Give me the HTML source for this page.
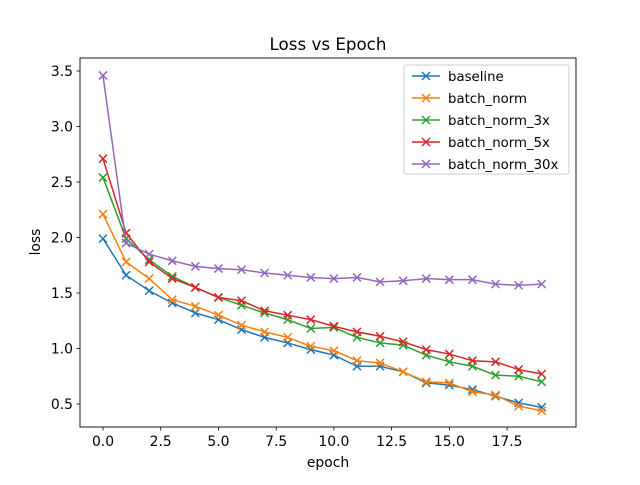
<!DOCTYPE html>
<html><head><meta charset="utf-8"><style>
body{margin:0;background:#fff}
svg text{font-family:"DejaVu Sans","Liberation Sans",sans-serif;fill:#000}
</style></head><body>
<svg id="chart" width="640" height="480" xmlns="http://www.w3.org/2000/svg">
<rect width="640" height="480" fill="#fff"/>
<text x="328" y="50" font-size="16.7" text-anchor="middle">Loss vs Epoch</text>
<g id="plot"></g>
<rect x="80" y="58" width="496" height="369" fill="none" stroke="#000" stroke-width="0.9"/>
<text x="328" y="467" font-size="13.9" text-anchor="middle">epoch</text>
<text x="0" y="0" font-size="13.9" text-anchor="middle" transform="translate(40,242) rotate(-90)">loss</text>
</svg>
<script>
const epochs=[0,1,2,3,4,5,6,7,8,9,10,11,12,13,14,15,16,17,18,19];
const seriesNames=["baseline","batch_norm","batch_norm_3x","batch_norm_5x","batch_norm_30x"];
const colors=["#1f77b4","#ff7f0e","#2ca02c","#d62728","#9467bd"];
const baseline=[1.99,1.66,1.52,1.41,1.32,1.26,1.17,1.10,1.05,0.99,0.94,0.84,0.84,0.79,0.69,0.67,0.63,0.57,0.51,0.47];
const batchNorm=[2.21,1.78,1.63,1.44,1.38,1.30,1.21,1.15,1.10,1.02,0.98,0.89,0.87,0.79,0.70,0.69,0.61,0.58,0.48,0.44];
const batchNorm3x=[2.54,1.99,1.80,1.65,1.55,1.46,1.39,1.32,1.26,1.18,1.19,1.10,1.05,1.03,0.94,0.88,0.84,0.76,0.75,0.70];
const batchNorm5x=[2.71,2.04,1.78,1.63,1.55,1.46,1.43,1.34,1.30,1.26,1.20,1.15,1.11,1.06,0.99,0.95,0.89,0.88,0.81,0.77];
const batchNorm30x=[3.46,1.95,1.85,1.79,1.74,1.72,1.71,1.68,1.66,1.64,1.63,1.64,1.60,1.61,1.63,1.62,1.62,1.58,1.57,1.58];
const xTicks=[0,2.5,5,7.5,10,12.5,15,17.5];
const xTickLabels=["0.0","2.5","5.0","7.5","10.0","12.5","15.0","17.5"];
const yTicks=[0.5,1,1.5,2,2.5,3,3.5];
const yTickLabels=["0.5","1.0","1.5","2.0","2.5","3.0","3.5"];
const allSeries=[baseline,batchNorm,batchNorm3x,batchNorm5x,batchNorm30x];
const NS="http://www.w3.org/2000/svg";
const xs=v=>103+v*23.09;
const ys=v=>71+(3.5-v)*111;
const svg=document.getElementById('chart');
const g=document.getElementById('plot');
function mk(t,a,p){const e=document.createElementNS(NS,t);for(const k in a)e.setAttribute(k,a[k]);(p||svg).appendChild(e);return e;}
xTicks.forEach((t,i)=>{
 const l=mk('line',{x1:xs(t),x2:xs(t),y1:427,y2:430.5,stroke:'#000','stroke-width':0.8});
 
 
 const tx=mk('text',{x:xs(t),y:446,'font-size':13.9,'text-anchor':'middle'});tx.textContent=xTickLabels[i];
 
 
});
yTicks.forEach((t,i)=>{
 const l=mk('line',{x1:76.5,x2:80,y1:ys(t),y2:ys(t),stroke:'#000','stroke-width':0.8});
 
 
 const tx=mk('text',{x:73,y:ys(t)+5,'font-size':13.9,'text-anchor':'end'});tx.textContent=yTickLabels[i];
 
 
});
function marker(x,y,c,p){
 const m=mk('path',{d:`M${x-4},${y-4}L${x+4},${y+4}M${x-4},${y+4}L${x+4},${y-4}`,stroke:c,'stroke-width':1.5,fill:'none'},p);
 
 
}
allSeries.forEach((s,si)=>{
 const pts=s.map((v,i)=>xs(epochs[i])+','+ys(v)).join(' ');
 const pl=mk('polyline',{points:pts,fill:'none',stroke:colors[si],'stroke-width':1.5,'stroke-linejoin':'round'},g);
 
 
 s.forEach((v,i)=>marker(xs(epochs[i]),ys(v),colors[si],g));
});
const lg=mk('g',{});


mk('rect',{x:404,y:65,width:165,height:109,rx:2,fill:'#fff','fill-opacity':0.8,stroke:'#ccc'},lg);
seriesNames.forEach((n,i)=>{
 const y=76+i*22;
 const e=mk('g',{},lg);
 
 
 mk('line',{x1:412,x2:440,y1:y,y2:y,stroke:colors[i],'stroke-width':1.5},e);
 marker(426,y,colors[i],e);
 const t=mk('text',{x:448,y:y+5,'font-size':13.3},e);t.textContent=n;
});
</script>
</body></html>
